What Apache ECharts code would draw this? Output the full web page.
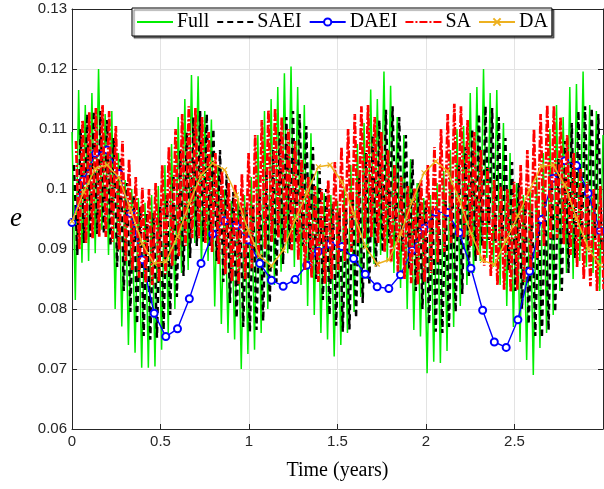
<!DOCTYPE html>
<html><head><meta charset="utf-8">
<script src="https://cdn.jsdelivr.net/npm/echarts/dist/echarts.min.js"></script>
<style>html,body{margin:0;padding:0;background:#fff}#c{width:604px;height:489px}</style>
</head><body><div id="c"></div><script>
// ---- data ----
const fastPeriod = 0.0375; // years between successive fast peaks
const fullHighs = [0.1095,0.1165,0.1140,0.1160,0.1200,0.1125,0.1130,0.1060,0.1015,0.1000,
 0.0985,0.0977,0.0990,0.1005,0.1040,0.1075,0.1120,0.1150,0.1190,0.1188,
 0.1130,0.1116,0.1040,0.0999,0.0980,0.0985,0.0990,0.1020,0.1090,0.1130,
 0.1150,0.1170,0.1193,0.1204,0.1170,0.1140,0.1093,0.1030,0.0993,0.0990,
 0.0980,0.1000,0.1040,0.1075,0.1110,0.1166,0.1150,0.1196,0.1172,0.1120,
 0.1090,0.1050,0.1010,0.0985,0.0990,0.1010,0.1030,0.1065,0.1100,0.1105,
 0.1160,0.1170,0.1200,0.1160,0.1165,0.1110,0.1060,0.1010,0.0990,0.1000,
 0.1020,0.1060,0.1100,0.1140,0.1120,0.1170,0.1175,0.1196,0.1140,0.1130,
 0.1090];
const fullLows = [0.0815,0.0877,0.0880,0.0893,0.0932,0.0890,0.0800,0.0771,0.0740,0.0727,
 0.0702,0.0702,0.0704,0.0732,0.0760,0.0800,0.0860,0.0865,0.0910,0.0870,
 0.0880,0.0804,0.0775,0.0760,0.0749,0.0700,0.0725,0.0732,0.0760,0.0800,
 0.0840,0.0862,0.0893,0.0870,0.0840,0.0805,0.0790,0.0760,0.0749,0.0721,
 0.0740,0.0760,0.0795,0.0820,0.0850,0.0875,0.0890,0.0880,0.0860,0.0835,
 0.0800,0.0765,0.0754,0.0693,0.0712,0.0710,0.0730,0.0770,0.0805,0.0840,
 0.0860,0.0880,0.0885,0.0870,0.0840,0.0805,0.0770,0.0745,0.0715,0.0690,
 0.0735,0.0760,0.0790,0.0830,0.0860,0.0850,0.0880,0.0870,0.0860,0.0830];
const saeiHighs = [0.1040,0.1100,0.1125,0.1130,0.1130,0.1115,0.1085,0.1050,0.1010,0.0990,
 0.0970,0.0960,0.0960,0.0970,0.0990,0.1020,0.1065,0.1095,0.1120,0.1130,
 0.1125,0.1100,0.1065,0.1025,0.0995,0.0975,0.0970,0.0975,0.1000,0.1030,
 0.1065,0.1095,0.1120,0.1130,0.1125,0.1105,0.1070,0.1030,0.1000,0.0975,
 0.0962,0.0968,0.0990,0.1020,0.1060,0.1090,0.1115,0.1132,0.1138,0.1120,
 0.1090,0.1050,0.1010,0.0980,0.0965,0.0962,0.0980,0.1005,0.1040,0.1070,
 0.1100,0.1125,0.1138,0.1135,0.1120,0.1085,0.1045,0.1010,0.0980,0.0962,
 0.0965,0.0985,0.1020,0.1050,0.1080,0.1110,0.1130,0.1138,0.1135,0.1125];
const saeiLows = [0.0890,0.0910,0.0920,0.0925,0.0925,0.0905,0.0870,0.0830,0.0795,0.0775,
 0.0755,0.0749,0.0752,0.0765,0.0790,0.0820,0.0855,0.0885,0.0905,0.0912,
 0.0905,0.0880,0.0845,0.0810,0.0785,0.0770,0.0762,0.0765,0.0780,0.0810,
 0.0845,0.0875,0.0900,0.0912,0.0905,0.0880,0.0850,0.0815,0.0790,0.0772,
 0.0762,0.0766,0.0785,0.0810,0.0840,0.0870,0.0895,0.0910,0.0912,0.0895,
 0.0865,0.0830,0.0800,0.0775,0.0762,0.0760,0.0770,0.0795,0.0825,0.0855,
 0.0880,0.0905,0.0915,0.0912,0.0895,0.0865,0.0830,0.0800,0.0775,0.0755,
 0.0752,0.0765,0.0795,0.0830,0.0860,0.0885,0.0905,0.0915,0.0915,0.0900];
const saHighs = [0.1080,0.1115,0.1128,0.1135,0.1140,0.1130,0.1105,0.1080,0.1050,0.1020,
 0.1002,0.1000,0.1010,0.1040,0.1070,0.1100,0.1125,0.1138,0.1135,0.1120,
 0.1095,0.1060,0.1030,0.1010,0.1008,0.1025,0.1060,0.1090,0.1115,0.1132,
 0.1135,0.1120,0.1100,0.1080,0.1050,0.1020,0.1005,0.1000,0.1015,0.1045,
 0.1070,0.1100,0.1125,0.1138,0.1140,0.1120,0.1095,0.1065,0.1040,0.1020,
 0.1005,0.1002,0.1015,0.1040,0.1070,0.1100,0.1125,0.1142,0.1138,0.1115,
 0.1095,0.1065,0.1035,0.1015,0.1005,0.1000,0.1012,0.1040,0.1065,0.1100,
 0.1125,0.1140,0.1138,0.1120,0.1090,0.1060,0.1035,0.1012,0.1000,0.1005];
const saLows = [0.0900,0.0910,0.0918,0.0920,0.0920,0.0912,0.0898,0.0880,0.0865,0.0852,
 0.0843,0.0840,0.0845,0.0858,0.0872,0.0888,0.0905,0.0918,0.0918,0.0910,
 0.0895,0.0875,0.0858,0.0845,0.0842,0.0850,0.0868,0.0885,0.0900,0.0912,
 0.0918,0.0910,0.0898,0.0882,0.0865,0.0852,0.0845,0.0842,0.0850,0.0865,
 0.0880,0.0895,0.0910,0.0918,0.0920,0.0910,0.0895,0.0878,0.0862,0.0850,
 0.0843,0.0840,0.0845,0.0860,0.0878,0.0895,0.0910,0.0920,0.0918,0.0905,
 0.0890,0.0872,0.0855,0.0840,0.0832,0.0828,0.0832,0.0845,0.0865,0.0885,
 0.0905,0.0918,0.0918,0.0908,0.0890,0.0870,0.0850,0.0838,0.0830,0.0833];
const avgTimes = [0,0.066,0.132,0.198,0.265,0.331,0.397,0.464,0.530,0.596,
 0.663,0.729,0.795,0.862,0.928,0.994,1.061,1.127,1.193,1.260,
 1.326,1.392,1.458,1.525,1.591,1.657,1.724,1.790,1.856,1.922,
 1.989,2.055,2.121,2.188,2.254,2.320,2.386,2.453,2.519,2.585,
 2.652,2.718,2.784,2.850,2.917,2.983];
const daeiValues = [0.0944,0.1015,0.1059,0.1065,0.1026,0.0959,0.0882,0.0793,0.0754,0.0767,
 0.0817,0.0876,0.0925,0.0947,0.0939,0.0915,0.0876,0.0848,0.0838,0.0849,
 0.0873,0.0896,0.0908,0.0904,0.0884,0.0858,0.0837,0.0834,0.0857,0.0898,
 0.0935,0.0961,0.0961,0.0927,0.0868,0.0798,0.0745,0.0736,0.0782,0.0863,
 0.0949,0.1018,0.1047,0.1039,0.0993,0.0930];
const daValues = [0.0946,0.0995,0.1034,0.1040,0.1019,0.0965,0.0909,0.0876,0.0879,0.0921,
 0.0976,0.1023,0.1043,0.1032,0.0990,0.0932,0.0888,0.0872,0.0898,0.0948,
 0.0993,0.1037,0.1040,0.1012,0.0959,0.0904,0.0875,0.0882,0.0925,0.0979,
 0.1027,0.1046,0.1030,0.0982,0.0926,0.0881,0.0874,0.0915,0.0955,0.0998,
 0.1038,0.1040,0.1007,0.0951,0.0901,0.0873];
const seriesNames = ['Full','SAEI','DAEI','SA','DA'];

// ---- build ----
function zigzag(highs, lows, phase) {
  const out = [];
  for (let k = 0; k < highs.length; k++) {
    out.push([k*fastPeriod + phase*fastPeriod, highs[k]]);
    if (k < lows.length) out.push([k*fastPeriod + (phase+0.5)*fastPeriod, lows[k]]);
  }
  return out;
}
const pair = (ts, vs) => ts.map((t,i)=>[t, vs[i]]);
const noMarker = ['Full','SAEI','SA'];

const axisCol = '#262626';
const serif = "'Liberation Serif','DejaVu Serif',serif";
const sans = "'Liberation Sans',Arial,sans-serif";
const chart = echarts.init(document.getElementById('c'), null, {renderer:'canvas'});
chart.setOption({
  animation: false,
  backgroundColor: '#fff',
  grid: {left: 72, right: 1, top: 9, bottom: 60},
  legend: {
    left: 132, top: 8, padding: [4,4,4,4], itemGap: 7, itemWidth: 36, itemHeight: 9,
    backgroundColor: '#fff', borderColor: '#000', borderWidth: 1,
    shadowColor: 'rgba(0,0,0,0.55)', shadowBlur: 1, shadowOffsetX: 2, shadowOffsetY: 2,
    textStyle: {fontFamily: serif, fontSize: 20, color: '#000', padding: [0,0,0,-1]},
    data: seriesNames.map(n => noMarker.includes(n) ? {name: n, itemStyle: {opacity: 0}} : {name: n})
  },
  xAxis: [{
    type: 'value', min: 0, max: 3, interval: 0.5, position: 'bottom',
    axisLine: {onZero: false, lineStyle: {color: axisCol, width: 1}},
    axisTick: {inside: true, length: 5, lineStyle: {color: axisCol}},
    axisLabel: {showMaxLabel: false, color: axisCol, fontFamily: sans, fontSize: 15, margin: 5,
      formatter: v => String(+v.toFixed(2))},
    splitLine: {show: true, lineStyle: {color: '#e3e3e3', width: 1}},
    name: 'Time (years)', nameLocation: 'middle', nameGap: 32,
    nameTextStyle: {fontFamily: serif, fontSize: 20, color: '#000'}
  },{
    type: 'value', min: 0, max: 3, interval: 0.5, position: 'top',
    axisLine: {onZero: false, lineStyle: {color: axisCol, width: 1}},
    axisTick: {inside: true, length: 5, lineStyle: {color: axisCol}},
    axisLabel: {show: false}, splitLine: {show: false}
  }],
  yAxis: [{
    type: 'value', min: 0.06, max: 0.13, interval: 0.01, position: 'left',
    axisLine: {show: true, onZero: false, lineStyle: {color: axisCol, width: 1}},
    axisTick: {show: true, inside: true, length: 5, lineStyle: {color: axisCol}},
    axisLabel: {color: axisCol, fontFamily: sans, fontSize: 15, margin: 5,
      formatter: v => String(+v.toFixed(2))},
    splitLine: {show: true, lineStyle: {color: '#e3e3e3', width: 1}},
    name: 'e', nameLocation: 'middle', nameGap: 50, nameRotate: 0,
    nameTextStyle: {fontFamily: serif, fontStyle: 'italic', fontSize: 27, color: '#000', padding: [0,0,10,0]}
  },{
    type: 'value', min: 0.06, max: 0.13, interval: 0.01, position: 'right',
    axisLine: {show: true, onZero: false, lineStyle: {color: axisCol, width: 1}},
    axisTick: {show: true, inside: true, length: 5, lineStyle: {color: axisCol}},
    axisLabel: {show: false}, splitLine: {show: false}
  }],
  series: [
    {name: 'Full', type: 'line', symbol: 'none', z: 2, data: zigzag(fullHighs, fullLows, 0),
     lineStyle: {color: '#00ee00', width: 1.5}, itemStyle: {color: '#00ee00'}},
    {name: 'SAEI', type: 'line', symbol: 'none', z: 3, data: zigzag(saeiHighs, saeiLows, 0.3),
     lineStyle: {color: '#000', width: 2.4, type: [6,4]}, itemStyle: {color: '#000'}},
    {name: 'DAEI', type: 'line', symbol: 'emptyCircle', symbolSize: 7, z: 4, data: pair(avgTimes, daeiValues),
     lineStyle: {color: '#0000ff', width: 1.4}, itemStyle: {color: '#0000ff', borderColor: '#0000ff', borderWidth: 1.3}},
    {name: 'SA', type: 'line', symbol: 'none', z: 5, data: zigzag(saHighs, saLows, 0.6),
     lineStyle: {color: '#ff0000', width: 2.7, type: [8,2,2,2]}, itemStyle: {color: '#ff0000'}},
    {name: 'DA', type: 'line', symbol: 'path://M0,0L10,10M10,0L0,10', symbolSize: 5, z: 6, data: pair(avgTimes, daValues),
     lineStyle: {color: '#EDB120', width: 1.5}, itemStyle: {color: '#EDB120', borderColor: '#EDB120', borderWidth: 1.2}}
  ]
});
</script></body></html>
